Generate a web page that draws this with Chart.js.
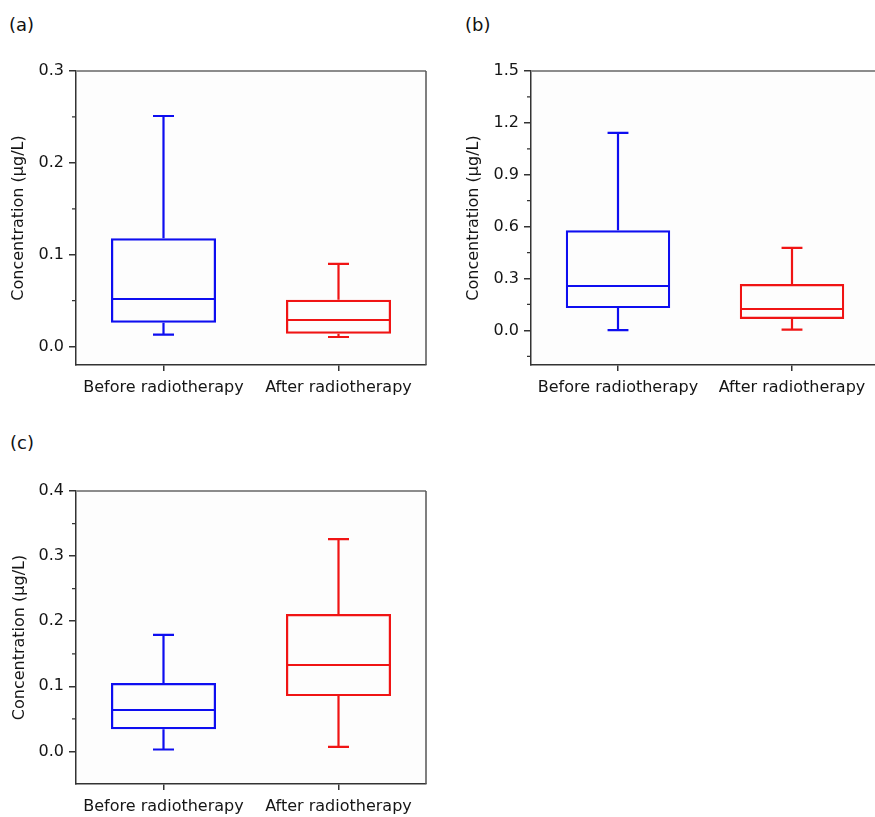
<!DOCTYPE html>
<html>
<head>
<meta charset="utf-8">
<script src="https://cdn.jsdelivr.net/npm/chart.js@4"></script>
<style>
  html, body { margin: 0; padding: 0; background: #fff; width: 875px; height: 817px; overflow: hidden; }
  .panel { position: absolute; }
  .tag { position: absolute; font: 18px 'DejaVu Sans', sans-serif; line-height: 18px; color: #111; }
</style>
</head>
<body>
<div class="tag" style="left:9px; top:16px;">(a)</div>
<div class="tag" style="left:465px; top:16px;">(b)</div>
<div class="tag" style="left:10px; top:434px;">(c)</div>
<div class="panel" style="left:0; top:0; width:440px; height:400px;"><canvas id="chart-a"></canvas></div>
<div class="panel" style="left:440px; top:0; width:445px; height:400px;"><canvas id="chart-b"></canvas></div>
<div class="panel" style="left:0; top:420px; width:440px; height:400px;"><canvas id="chart-c"></canvas></div>
<script>
const categories = ['Before radiotherapy', 'After radiotherapy'];
const boxColors = ['rgb(14, 14, 240)', 'rgb(240, 20, 20)'];

// (a) five-number summaries
const aMin = [0.013, 0.0105];
const aQ1 = [0.026, 0.014];
const aMed = [0.052, 0.029];
const aQ3 = [0.118, 0.051];
const aMax = [0.251, 0.090];
const aTicks = [0, 0.1, 0.2, 0.3];
const aMinorTicks = [0.05, 0.15, 0.25];

// (b)
const bMin = [0.002, 0.005];
const bQ1 = [0.129, 0.066];
const bMed = [0.255, 0.122];
const bQ3 = [0.579, 0.268];
const bMax = [1.142, 0.477];
const bTicks = [0, 0.3, 0.6, 0.9, 1.2, 1.5];
const bMinorTicks = [-0.15, 0.15, 0.45, 0.75, 1.05, 1.35];

// (c)
const cMin = [0.003, 0.007];
const cQ1 = [0.034, 0.085];
const cMed = [0.064, 0.132];
const cQ3 = [0.105, 0.211];
const cMax = [0.179, 0.326];
const cTicks = [0, 0.1, 0.2, 0.3, 0.4];
const cMinorTicks = [0.05, 0.15, 0.25, 0.35];

Chart.defaults.font.family = "'DejaVu Sans', sans-serif";
Chart.defaults.font.size = 16;
Chart.defaults.color = '#151515';

// Draws whiskers, caps, medians, frame and minor ticks with the chart's scales.
function boxPlugin(stats, minorTicks) {
  return {
    id: 'boxExtras',
    beforeDraw(chart) {
      const { ctx, chartArea: a } = chart;
      ctx.save();
      ctx.fillStyle = '#fdfdfd';
      ctx.fillRect(a.left, a.top, a.right - a.left, a.bottom - a.top);
      ctx.restore();
    },
    afterDatasetsDraw(chart) {
      const { ctx, scales: { x, y } } = chart;
      const meta = chart.getDatasetMeta(0);
      ctx.save();
      ctx.lineWidth = 2.2;
      ctx.lineCap = 'butt';
      stats.med.forEach((m, i) => {
        const bar = meta.data[i];
        const cx = x.getPixelForValue(i);
        const half = bar.width / 2 - 1;
        const cap = bar.width * 0.1;
        const yMed = Math.round(y.getPixelForValue(m));
        const yMin = y.getPixelForValue(stats.min[i]);
        const yMax = y.getPixelForValue(stats.max[i]);
        const yQ1 = y.getPixelForValue(stats.q1[i]);
        const yQ3 = y.getPixelForValue(stats.q3[i]);
        ctx.strokeStyle = boxColors[i];
        ctx.beginPath();
        ctx.moveTo(cx - half, yMed);
        ctx.lineTo(cx + half, yMed);
        ctx.moveTo(cx, yQ3);
        ctx.lineTo(cx, yMax);
        ctx.moveTo(cx - cap, yMax);
        ctx.lineTo(cx + cap, yMax);
        ctx.moveTo(cx, yQ1);
        ctx.lineTo(cx, yMin);
        ctx.moveTo(cx - cap, yMin);
        ctx.lineTo(cx + cap, yMin);
        ctx.stroke();
      });
      ctx.restore();
    },
    afterDraw(chart) {
      const { ctx, chartArea: a, scales: { y } } = chart;
      ctx.save();
      // top and right frame
      ctx.strokeStyle = '#8c8c8c';
      ctx.lineWidth = 2;
      ctx.beginPath();
      ctx.moveTo(a.left, a.top);
      ctx.lineTo(a.right, a.top);
      ctx.stroke();
      ctx.strokeStyle = '#555';
      ctx.lineWidth = 1.5;
      ctx.beginPath();
      ctx.moveTo(a.right, a.top);
      ctx.lineTo(a.right, a.bottom);
      ctx.stroke();
      // minor ticks on the y axis
      ctx.strokeStyle = '#333';
      ctx.lineWidth = 1.2;
      ctx.beginPath();
      minorTicks.forEach((v) => {
        const py = y.getPixelForValue(v);
        ctx.moveTo(a.left - 4, py);
        ctx.lineTo(a.left, py);
      });
      ctx.stroke();
      ctx.restore();
    },
  };
}

function makePanel(id, stats, opts) {
  new Chart(document.getElementById(id), {
    type: 'bar',
    data: {
      labels: categories,
      datasets: [{
        data: stats.q1.map((q, i) => [q, stats.q3[i]]),
        backgroundColor: 'rgba(0,0,0,0)',
        borderColor: boxColors,
        borderWidth: 2.2,
        borderSkipped: false,
        barPercentage: 0.6,
        categoryPercentage: 1.0,
      }],
    },
    options: {
      responsive: true,
      maintainAspectRatio: false,
      animation: false,
      layout: { padding: { left: 0, top: opts.top, right: opts.right, bottom: 0 } },
      plugins: { legend: { display: false }, tooltip: { enabled: false } },
      scales: {
        x: {
          offset: true,
          grid: { drawOnChartArea: false, offset: false, tickLength: 6, color: '#333', lineWidth: 1.5 },
          border: { color: '#333', width: 1.5 },
          ticks: { padding: 7, color: '#151515' },
          afterFit(scale) { scale.height = opts.xHeight; },
        },
        y: {
          min: opts.min,
          max: opts.max,
          grid: { drawOnChartArea: false, tickLength: 7, color: '#333', lineWidth: 1.5 },
          border: { color: '#333', width: 1.5 },
          ticks: { padding: 5, color: '#151515', callback: (v) => v.toFixed(1) },
          afterBuildTicks(scale) { scale.ticks = opts.ticks.map((v) => ({ value: v })); },
          title: {
            display: true,
            text: 'Concentration (µg/L)',
            color: '#151515',
            padding: { top: opts.titlePad, bottom: 0 },
          },
          afterFit(scale) { scale.width = opts.yWidth; },
        },
      },
    },
    plugins: [boxPlugin(stats, opts.minor)],
  });
}

makePanel('chart-a',
  { min: aMin, q1: aQ1, med: aMed, q3: aQ3, max: aMax },
  { min: -0.02, max: 0.3, ticks: aTicks, minor: aMinorTicks, top: 71, right: 14, xHeight: 35, yWidth: 76, titlePad: 9 });

makePanel('chart-b',
  { min: bMin, q1: bQ1, med: bMed, q3: bQ3, max: bMax },
  { min: -0.2, max: 1.5, ticks: bTicks, minor: bMinorTicks, top: 71, right: 6, xHeight: 35, yWidth: 91, titlePad: 24 });

makePanel('chart-c',
  { min: cMin, q1: cQ1, med: cMed, q3: cQ3, max: cMax },
  { min: -0.05, max: 0.4, ticks: cTicks, minor: cMinorTicks, top: 71, right: 14, xHeight: 36, yWidth: 76, titlePad: 10 });
</script>
</body>
</html>
